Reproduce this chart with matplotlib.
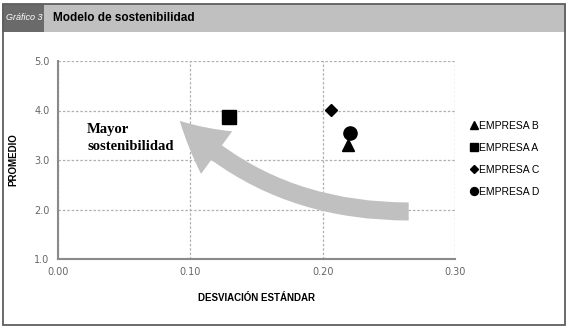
import matplotlib.pyplot as plt
from matplotlib.patches import Rectangle, FancyArrowPatch

# data
empresas = ['EMPRESA B', 'EMPRESA A', 'EMPRESA C', 'EMPRESA D']
desviacion = [0.219, 0.129, 0.206, 0.221]
promedio = [3.30, 3.86, 4.02, 3.55]
marcadores = ['^', 's', 'D', 'o']
tamanos = [9, 9.5, 6.5, 9.5]

x_ticks = [0.00, 0.10, 0.20, 0.30]
y_ticks = [1.0, 2.0, 3.0, 4.0, 5.0]

# big gray arrow: tail -> tip, in data units
flecha_inicio = (0.265, 1.96)
flecha_fin = (0.092, 3.79)

W, H = 568, 330
fig = plt.figure(figsize=(W / 100, H / 100), dpi=100)
fig.patch.set_facecolor('white')

def px(x, y, w, h):
    # pixel box (top-left origin) -> figure fraction
    return (x / W, 1 - (y + h) / H, w / W, h / H)

# title band
r = px(2, 4, 564, 28)
fig.patches.append(Rectangle(r[:2], r[2], r[3], transform=fig.transFigure,
                             facecolor='#c0c0c0', edgecolor='none', zorder=0))
r = px(2, 4, 42, 28)
fig.patches.append(Rectangle(r[:2], r[2], r[3], transform=fig.transFigure,
                             facecolor='#6a6a6a', edgecolor='none', zorder=1))
# outer border
r = px(2.5, 4, 562.5, 320.5)
fig.patches.append(Rectangle(r[:2], r[2], r[3], transform=fig.transFigure,
                             facecolor='none', edgecolor='#5e5e5e', lw=1.3, zorder=2))

fig.text(6 / W, 1 - 17 / H, 'Gráfico 3', color='white', fontsize=6.5,
         style='italic', va='center', ha='left', family='Liberation Sans')
fig.text(53 / W, 1 - 18 / H, 'Modelo de sostenibilidad', color='black',
         fontsize=8.5, weight='bold', va='center', ha='left',
         family='Liberation Sans')

ax = fig.add_axes([58 / W, 1 - 259 / H, (455 - 58) / W, (259 - 61) / H])
ax.set_xlim(0, 0.30)
ax.set_ylim(1.0, 5.0)
ax.set_xticks(x_ticks)
ax.set_yticks(y_ticks)
ax.set_xticklabels([f'{v:.2f}' for v in x_ticks])
ax.set_yticklabels([f'{v:.1f}' for v in y_ticks])
ax.tick_params(length=0, labelsize=7, colors='#666666', pad=6)
ax.grid(True, color='#b0b0b0', ls=(0, (2, 1.5)), lw=0.9)
ax.set_axisbelow(True)
for s in ['top', 'right']:
    ax.spines[s].set_visible(False)
for s in ['left', 'bottom']:
    ax.spines[s].set_color('#8a8a8a')
    ax.spines[s].set_linewidth(1.5)

ax.set_xlabel('DESVIACIÓN ESTÁNDAR', fontsize=7, weight='bold',
              family='Liberation Sans')
ax.set_ylabel('PROMEDIO', fontsize=7, weight='bold', family='Liberation Sans')
ax.xaxis.set_label_coords((256 - 58) / (455 - 58), -(293 - 259) / (259 - 61))
ax.yaxis.set_label_coords(-(58 - 18) / (455 - 58), 0.5)

flecha = FancyArrowPatch(flecha_inicio, flecha_fin,
                         connectionstyle='angle3,angleA=0,angleB=-45',
                         arrowstyle='simple,head_length=35,head_width=38,tail_width=13',
                         mutation_scale=1, shrinkA=0, shrinkB=0,
                         facecolor='#c0c0c0', edgecolor='none', zorder=2)
ax.add_patch(flecha)

ax.text(0.022, 3.44, 'Mayor\nsostenibilidad', fontsize=10.5, weight='bold',
        family='Liberation Serif', ha='left', va='center', linespacing=1.35)

for xv, yv, m, lab, ms in zip(desviacion, promedio, marcadores, empresas, tamanos):
    ax.plot(xv, yv, marker=m, color='black', ms=ms, ls='none', label=lab, zorder=3)

leg = ax.legend(loc='upper left', bbox_to_anchor=(1.03, 0.72), frameon=False,
                prop={'family': 'Liberation Sans', 'size': 7.5},
                handlelength=0.6, handletextpad=0.2, labelspacing=1.15,
                markerscale=0.6, borderaxespad=0)

fig.savefig('out.png', dpi=100)
